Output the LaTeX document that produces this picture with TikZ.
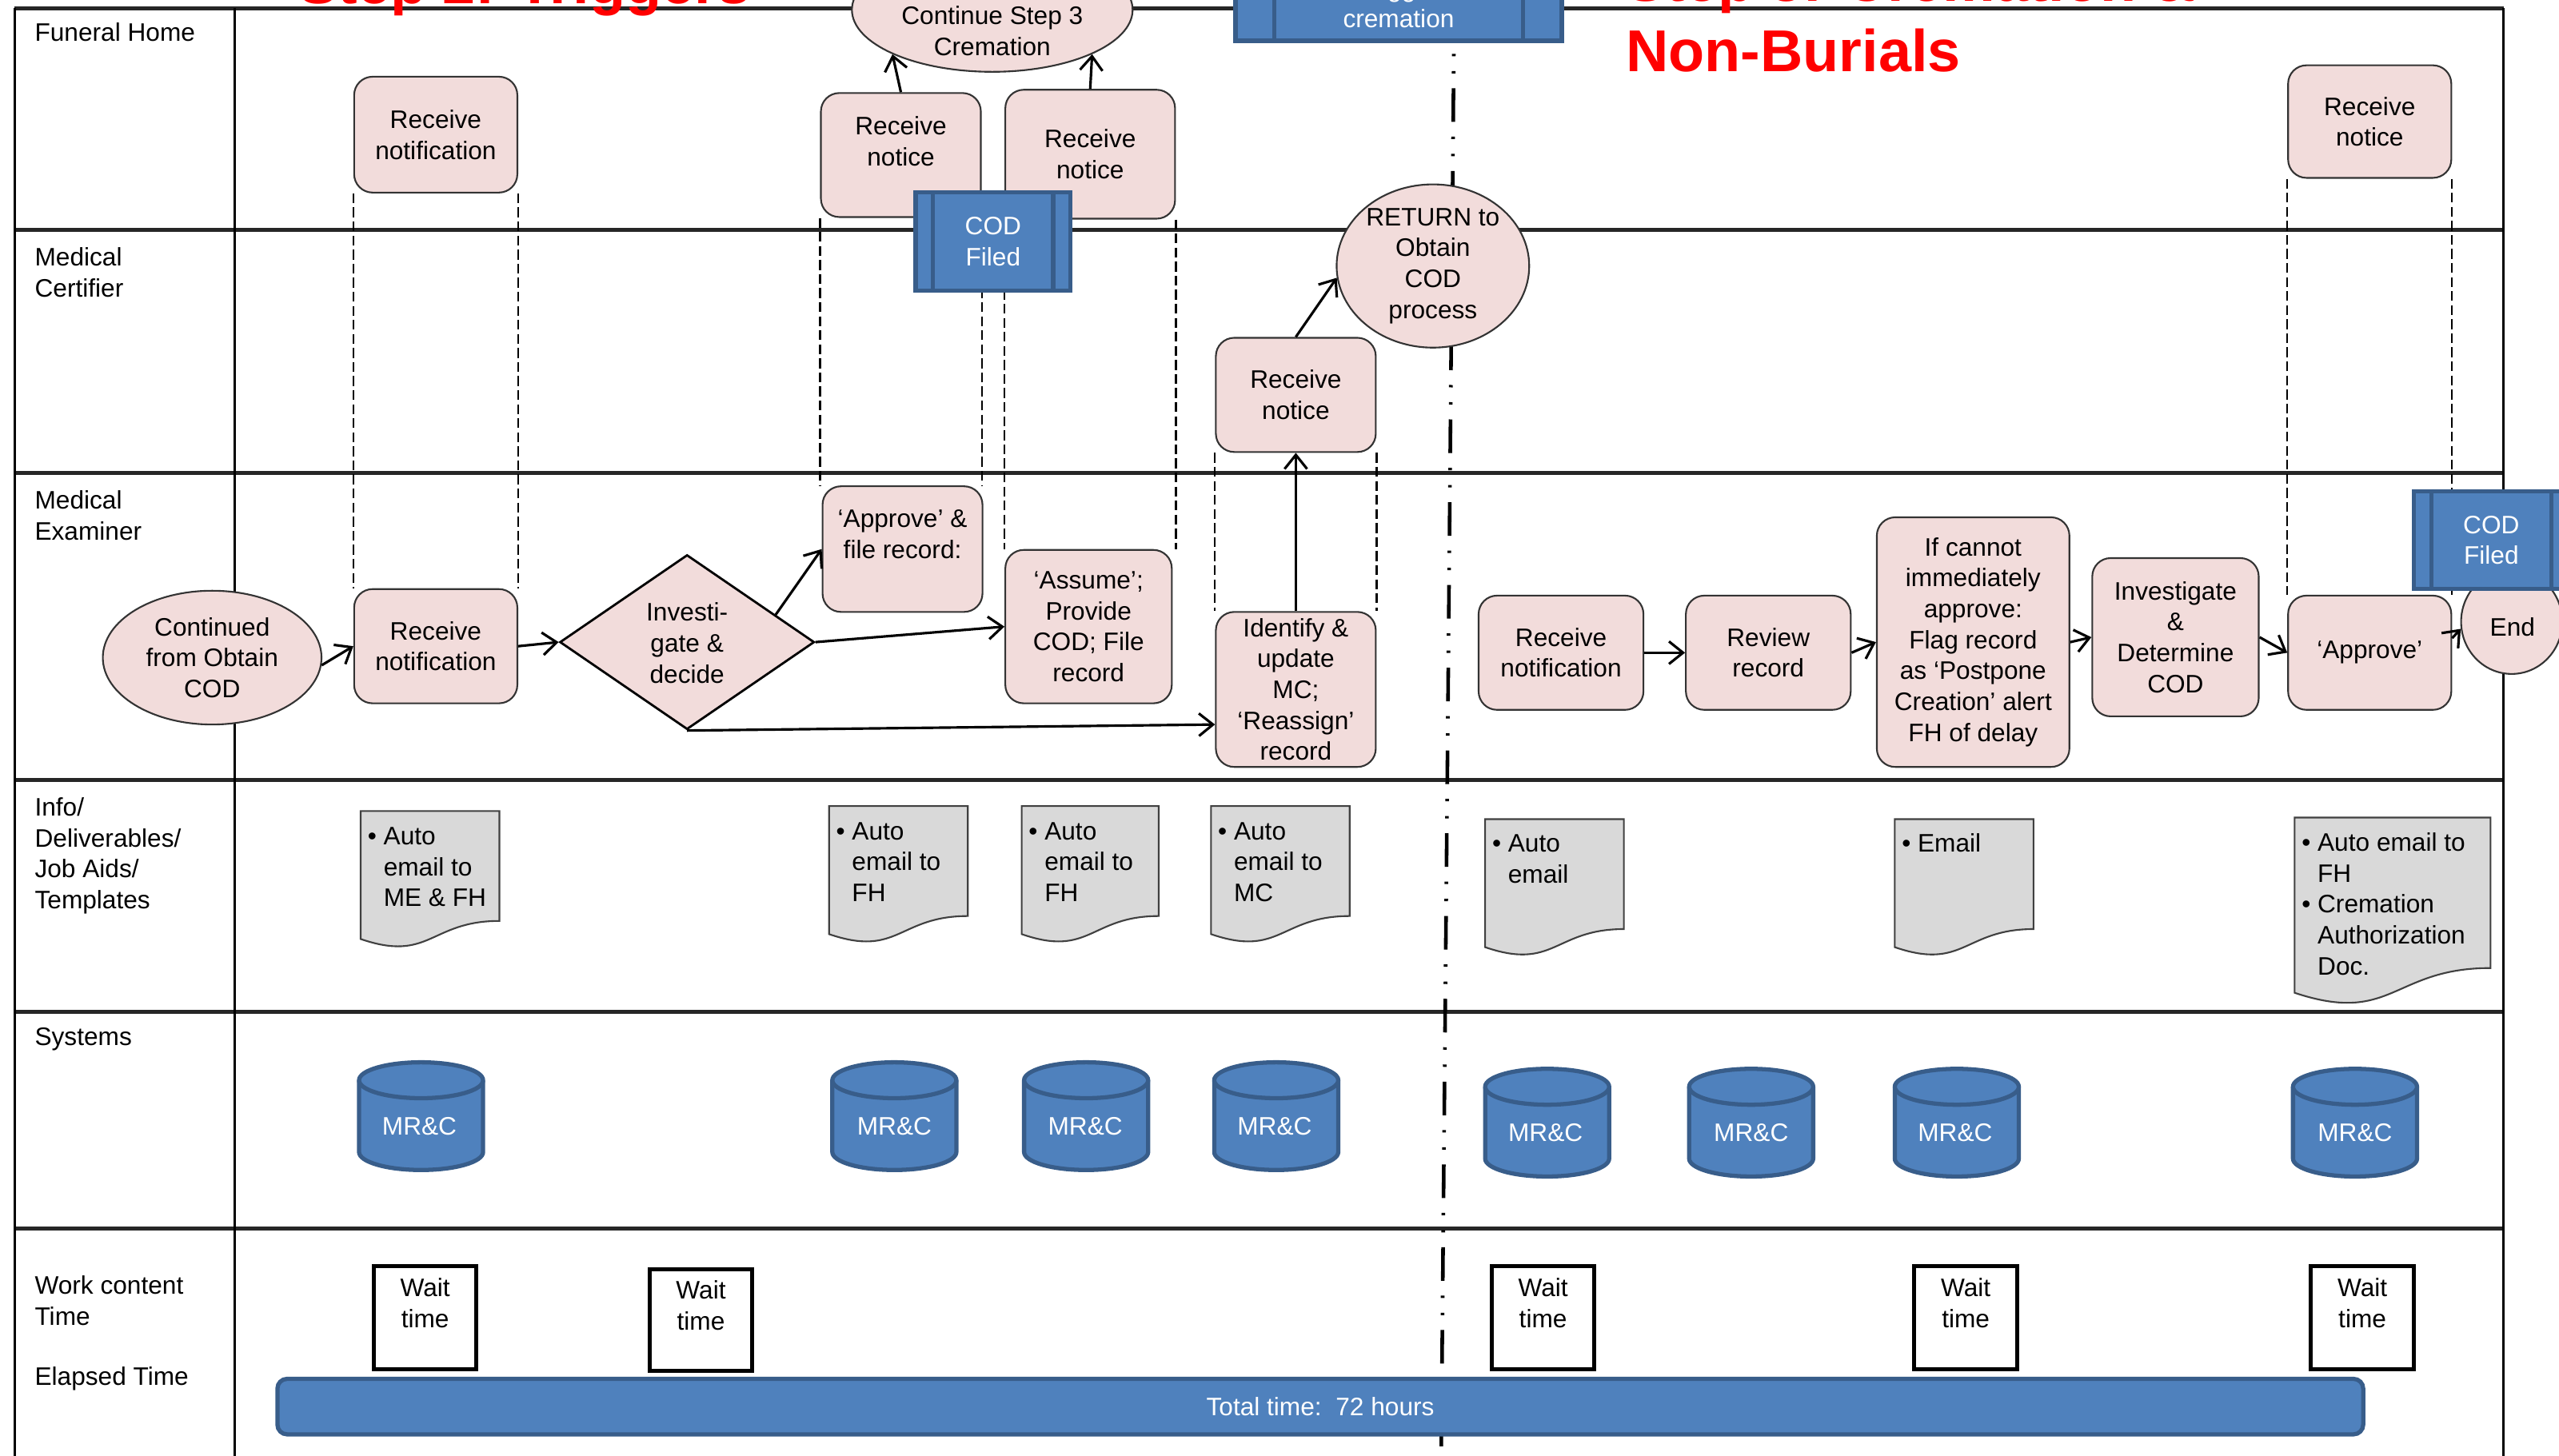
\documentclass[tikz,border=0pt]{standalone}
\usepackage{fontspec}
\setmainfont{Liberation Sans}
\usetikzlibrary{shapes.geometric,arrows.meta,calc}
\newlength\pxu
\setlength\pxu{0.020408cm}
\definecolor{pinkf}{HTML}{F2DCDB}
\definecolor{bluef}{HTML}{4F81BD}
\definecolor{blued}{HTML}{385D8A}
\definecolor{docf}{HTML}{D9D9D9}
\definecolor{titlered}{HTML}{FF0000}
\pgfdeclarelayer{bg}
\pgfsetlayers{bg,main}
\tikzset{
 sz/.style n args={2}{minimum width=#1\pxu, minimum height=#2\pxu},
 proc/.style={rectangle, rounded corners=0.23cm, fill=pinkf, draw=black!80, line width=0.6pt, align=center, inner sep=0pt},
 ell/.style={ellipse, fill=pinkf, draw=black!80, line width=0.6pt, align=center, inner sep=0pt},
 bluebox/.style={rectangle, fill=bluef, draw=blued, line width=1.5pt, text=white, align=center, inner sep=0pt},
 barline/.style={draw=blued, line width=1.5pt},
 arr/.style={-{Straight Barb[length=5pt,width=8pt]}, line width=0.9pt},
 vdash/.style={dash pattern=on 3.5pt off 1.5pt, line width=0.6pt},
 laneline/.style={line width=1.4pt, draw=black!85},
 frameline/.style={line width=0.8pt},
 txt/.style={align=center, inner sep=0pt},
 lbl/.style={align=left, anchor=north west, inner sep=0pt},
 waitb/.style={rectangle, draw=black, line width=1.4pt, fill=white, inner sep=0pt},
 docs/.style={fill=docf, draw=black!75, line width=0.6pt},
 doctxt/.style={anchor=north west, inner sep=0pt},
 cyls/.style={fill=bluef, draw=blued, line width=1.5pt},
 title/.style={text=titlered, font=\fontsize{21}{25.5}\selectfont\bfseries, anchor=base west, inner sep=0pt},
 dashdot/.style={line width=1.3pt, dash pattern=on 0.03cm off 0.185cm on 0.03cm off 0.185cm on 0.42cm off 0.185cm},
}
\newcommand\docshape[4]{%
 \draw[docs] (#1,#2) -- ({#1+#3},#2) -- ({#1+#3},{#2+0.802*#4})
   .. controls ({#1+0.5*#3},{#2+0.802*#4}) and ({#1+0.5*#3},{#2+1.1075*#4}) .. (#1,{#2+0.934*#4}) -- cycle;}
\newcommand\cylshape[2]{%
 \draw[cyls] ({#1-38},{#2+11}) -- ({#1-38},{#2+55})
   arc[start angle=180,end angle=360,x radius=38\pxu,y radius=11\pxu]
   -- ({#1+38},{#2+11})
   arc[start angle=0,end angle=180,x radius=38\pxu,y radius=11\pxu] -- cycle;
 \draw[cyls] ({#1-38},{#2+11}) arc[start angle=180,end angle=360,x radius=38\pxu,y radius=11\pxu];}
\begin{document}
\begin{tikzpicture}[x=0.020408cm,y=-0.020408cm,font=\fontsize{9}{11}\selectfont]
\useasboundingbox (0,0) rectangle (1568,892);

% lane labels
\node[lbl] (lfh) at (21,13.5) {Funeral Home};
\node[lbl] (lmc) at (21,151.5) {Medical\\Certifier};
\node[lbl] (lme) at (21,300.5) {Medical\\Examiner};
\node[lbl] (lin) at (21,488.5) {Info/\\Deliverables/\\Job Aids/\\Templates};
\node[lbl] (lsy) at (21,629.5) {Systems};
\node[lbl] (lwc) at (21,781.5) {Work content\\Time};
\node[lbl] (lel) at (21,837.5) {Elapsed Time};

% Funeral home lane
\node[proc, sz={100}{71}] (fh1) at (267,82.5) {Receive\\notification};
\node[proc, sz={98}{76}] (fh2) at (552,95) {};
\node[txt] (fh2t) at (552,86.5) {Receive\\notice};
\node[proc, sz={104}{79}] (fh3) at (668,94.5) {Receive\\notice};
\node[proc, sz={100}{69}] (fh4) at (1452,74.5) {Receive\\notice};
\node[ell, sz={172}{76}] (cont3) at (608,6) {};
\node[txt] (cont3t) at (608,19) {Continue Step 3\\Cremation};
\node[bluebox, sz={200}{46}] (trig) at (857,2) {Trigger\\cremation};
\draw[barline] ([xshift=25\pxu]trig.north west) -- ([xshift=25\pxu]trig.south west);
\draw[barline] ([xshift=-25\pxu]trig.north east) -- ([xshift=-25\pxu]trig.south east);

% Medical certifier lane
\node[bluebox, sz={95}{60}] (codf1) at (608.5,148) {COD\\Filed};
\draw[barline] ([xshift=12\pxu]codf1.north west) -- ([xshift=12\pxu]codf1.south west);
\draw[barline] ([xshift=-12\pxu]codf1.north east) -- ([xshift=-12\pxu]codf1.south east);
\node[proc, sz={98}{70}] (mcrn) at (794,242) {Receive\\notice};
\node[ell, sz={118}{90}] (ret) at (878,163) {RETURN to\\Obtain\\COD\\process};

% Medical examiner lane
\node[ell, sz={134}{82}] (contd) at (130,403) {Continued\\from Obtain\\COD};
\node[proc, sz={100}{70}] (me1) at (267,396) {Receive\\notification};
\node[diamond, fill=pinkf, draw=black, line width=0.8pt, inner sep=0pt, sz={156}{107}] (dia) at (421,393.5) {};
\node[txt] (diat) at (421,394) {Investi-\\gate \&\\decide};
\node[proc, sz={98}{77}] (appr1) at (553,336.5) {};
\node[txt] (appr1t) at (553,327.5) {‘Approve’ \&\\file record:};
\node[proc, sz={102}{94}] (assume) at (667,384) {‘Assume’;\\Provide\\COD; File\\record};
\node[proc, sz={98}{95}] (ident) at (794,422.5) {Identify \&\\update\\MC;\\‘Reassign’\\record};
\node[proc, sz={101}{70}] (me2) at (956.5,400) {Receive\\notification};
\node[proc, sz={101}{70}] (rev) at (1083.5,400) {Review\\record};
\node[proc, sz={118}{153}] (flag) at (1209,393.5) {If cannot\\immediately\\approve:\\Flag record\\as ‘Postpone\\Creation’ alert\\FH of delay};
\node[proc, sz={102}{97}] (inv) at (1333,390.5) {Investigate\\\&\\Determine\\COD};
\node[proc, sz={100}{70}] (appr2) at (1452,400) {‘Approve’};
\node[ell, sz={62}{64}] (endn) at (1539,381) {};
\node[txt] (endt) at (1539.5,384) {End};
\node[bluebox, sz={95}{60}] (codf2) at (1526.5,331) {COD\\Filed};
\draw[barline] ([xshift=12\pxu]codf2.north west) -- ([xshift=12\pxu]codf2.south west);
\draw[barline] ([xshift=-12\pxu]codf2.north east) -- ([xshift=-12\pxu]codf2.south east);

% Info lane documents
\docshape{221}{497}{85}{84}
\node[doctxt] (d1) at (225,504) {\begin{tabular}{@{}l@{\ }l@{}}\textbullet & Auto\\ & email to\\ & ME \& FH\end{tabular}};
\docshape{508}{494}{85}{84}
\node[doctxt] (d2) at (512,501) {\begin{tabular}{@{}l@{\ }l@{}}\textbullet & Auto\\ & email to\\ & FH\end{tabular}};
\docshape{626}{494}{84}{84}
\node[doctxt] (d3) at (630,501) {\begin{tabular}{@{}l@{\ }l@{}}\textbullet & Auto\\ & email to\\ & FH\end{tabular}};
\docshape{742}{494}{85}{84}
\node[doctxt] (d4) at (746,501) {\begin{tabular}{@{}l@{\ }l@{}}\textbullet & Auto\\ & email to\\ & MC\end{tabular}};
\docshape{910}{502}{85}{84}
\node[doctxt] (d5) at (914,508.5) {\begin{tabular}{@{}l@{\ }l@{}}\textbullet & Auto\\ & email\end{tabular}};
\docshape{1161}{502}{85}{84}
\node[doctxt] (d6) at (1165,508.5) {\begin{tabular}{@{}l@{\ }l@{}}\textbullet & Email\end{tabular}};
\docshape{1406}{501}{120}{115}
\node[doctxt] (d7) at (1410,508) {\begin{tabular}{@{}l@{\ }l@{}}\textbullet & Auto email to\\ & FH\\ \textbullet & Cremation\\ & Authorization\\ & Doc.\end{tabular}};

% Systems lane
\cylshape{258}{651}
\node[txt, text=white] (c1) at (257,690) {MR\&C};
\cylshape{548}{651}
\node[txt, text=white] (c2) at (548,690) {MR\&C};
\cylshape{665.5}{651}
\node[txt, text=white] (c3) at (665,690) {MR\&C};
\cylshape{782}{651}
\node[txt, text=white] (c4) at (781,690) {MR\&C};
\cylshape{948}{655}
\node[txt, text=white] (c5) at (947,694) {MR\&C};
\cylshape{1073}{655}
\node[txt, text=white] (c6) at (1073,694) {MR\&C};
\cylshape{1199}{655}
\node[txt, text=white] (c7) at (1198,694) {MR\&C};
\cylshape{1443}{655}
\node[txt, text=white] (c8) at (1443,694) {MR\&C};

% Work content lane
\node[waitb, sz={63}{63}] (w1) at (260.5,807.5) {};
\node[txt] (w1t) at (260.5,798.5) {Wait\\time};
\node[waitb, sz={63}{62}] (w2) at (429.5,809) {};
\node[txt] (w2t) at (429.5,800) {Wait\\time};
\node[waitb, sz={63}{63}] (w3) at (945.5,807.5) {};
\node[txt] (w3t) at (945.5,798.5) {Wait\\time};
\node[waitb, sz={63}{63}] (w4) at (1204.5,807.5) {};
\node[txt] (w4t) at (1204.5,798.5) {Wait\\time};
\node[waitb, sz={63}{63}] (w5) at (1447.5,807.5) {};
\node[txt] (w5t) at (1447.5,798.5) {Wait\\time};
\node[bluebox, rounded corners=0.12cm, sz={1278}{34}] (tot) at (809,862) {Total time:\ \ 72 hours};

% titles
\node[title] (t2) at (182.6,2) {Step 2: Triggers};
\node[title] (t3a) at (996,0.5) {Step 3: Cremation \&};
\node[title] (t3b) at (996,44) {Non-Burials};

% connectors
\draw[arr] (contd.356) -- (me1.west);
\draw[arr] (me1.east) -- (dia.west);
\draw[arr] ($(dia.north)!0.69!(dia.east)$) -- (appr1.west);
\draw[arr] (dia.east) -- (assume.west);
\draw[arr] (dia.south) -- ($(ident.west)+(0,21.5)$);
\draw[arr] (ident.north) -- (mcrn.south);
\draw[arr] (mcrn.north) -- (ret.187);
\draw[arr] (fh2.north) -- (cont3.204);
\draw[arr] (fh3.north) -- (cont3.336);
\draw[arr] (me2.east) -- (rev.west);
\draw[arr] (rev.east) -- (flag.west);
\draw[arr] (flag.east) -- (inv.west);
\draw[arr] (inv.east) -- (appr2.west);
\draw[arr] (appr2.10) -- (endn.188);

\begin{pgfonlayer}{bg}
 \draw[laneline] (9,5) -- (1534,5);
 \draw[laneline] (9,141) -- (1534,141);
 \draw[laneline] (9,290) -- (1534,290);
 \draw[laneline] (9,478) -- (1534,478);
 \draw[laneline] (9,620) -- (1534,620);
 \draw[laneline] (9,753) -- (1534,753);
 \draw[frameline] (9,5) -- (9,900);
 \draw[frameline] (144,5) -- (144,900);
 \draw[frameline] (1534,5) -- (1534,900);
 \coordinate (ddtop) at (890.8,33);
 \coordinate (ddbot) at (883,900);
 \draw[dashdot] (ddtop) -- (ddbot);
 \draw[vdash] (fh1.south west) -- (me1.north west);
 \draw[vdash] (fh1.south east) -- (me1.north east);
 \draw[vdash] (fh2.south west) -- (fh2.south west |- appr1.north);
 \draw[vdash] (fh2.south east) -- (fh2.south east |- appr1.north);
 \draw[vdash] (fh3.south west) -- (fh3.south west |- assume.north);
 \draw[vdash] (fh3.south east) -- (fh3.south east |- assume.north);
 \draw[vdash] (mcrn.south west) -- (ident.north west);
 \draw[vdash] (mcrn.south east) -- (ident.north east);
 \draw[vdash] (fh4.south west) -- (appr2.north west);
 \draw[vdash] (fh4.south east) -- (appr2.north east);
\end{pgfonlayer}
\end{tikzpicture}
\end{document}
